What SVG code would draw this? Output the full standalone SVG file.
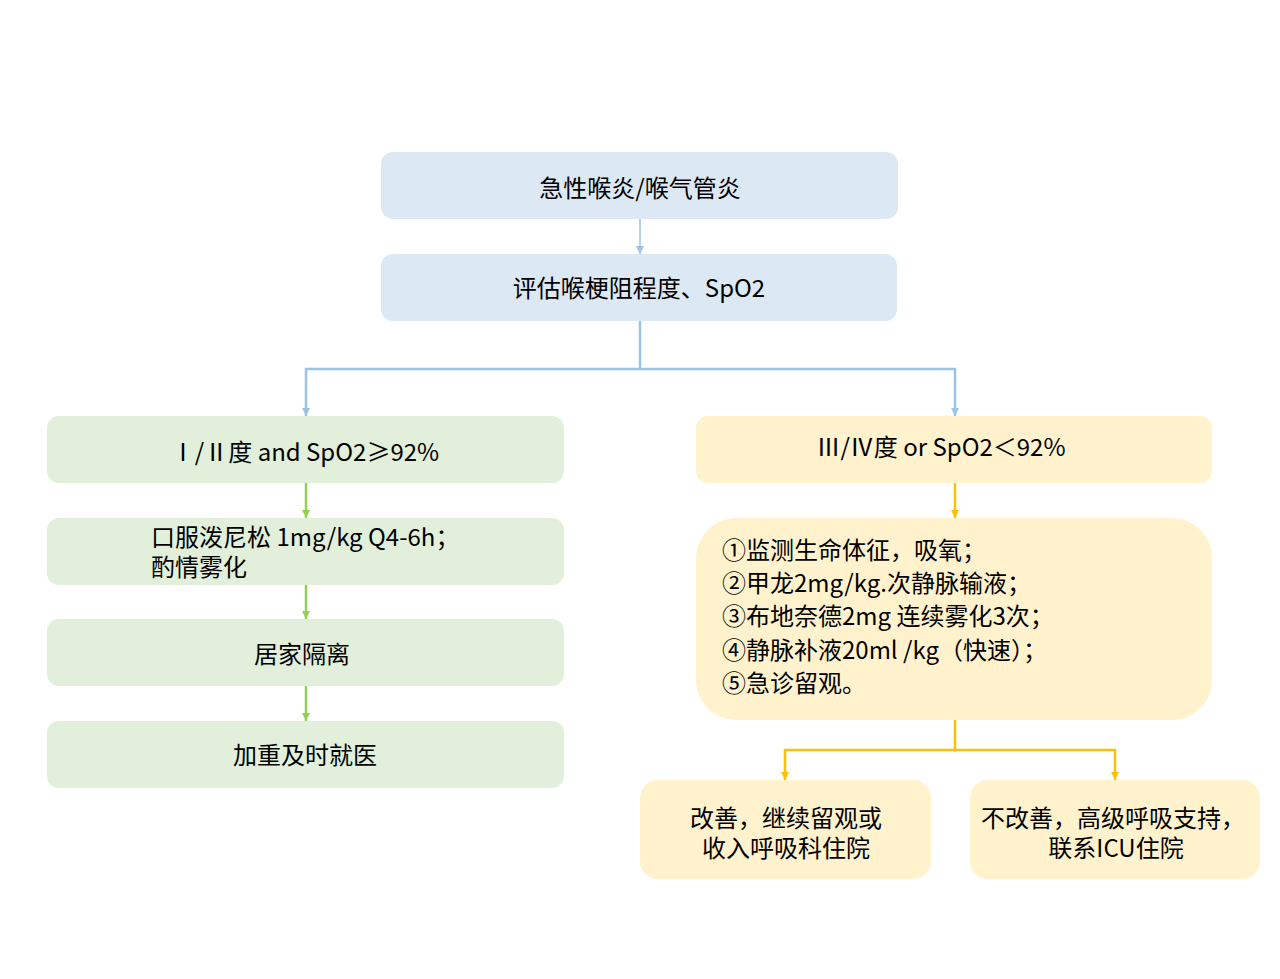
<svg xmlns="http://www.w3.org/2000/svg" width="1280" height="979" viewBox="0 0 1280 979">
<style>
text{font-family:"Noto Sans CJK SC","Microsoft YaHei",sans-serif;font-size:24px;fill:#000}
.c{text-anchor:middle}
.blue{fill:#dde8f5}
.green{fill:#e2efda}
.yellow{fill:#fff2cc}
.lb{stroke:#9dc3e6;fill:none}
.lg{stroke:#92d050;stroke-width:2.5;fill:none}
.ly{stroke:#ffc000;stroke-width:2.5;fill:none}
</style>
<defs>
<marker id="ag" markerWidth="8" markerHeight="8" refX="8" refY="4" orient="auto" markerUnits="userSpaceOnUse" viewBox="0 0 8 8"><path d="M0,0 L8,4 L0,8 Z" fill="#92d050"/></marker>
<marker id="ay" markerWidth="8" markerHeight="8" refX="8" refY="4" orient="auto" markerUnits="userSpaceOnUse" viewBox="0 0 8 8"><path d="M0,0 L8,4 L0,8 Z" fill="#ffc000"/></marker>
<marker id="ab2" markerWidth="8" markerHeight="8" refX="8" refY="4" orient="auto" markerUnits="userSpaceOnUse" viewBox="0 0 8 8"><path d="M0,0 L8,4 L0,8 Z" fill="#9dc3e6"/></marker>
</defs>
<rect width="1280" height="979" fill="#fff"/>
<g id="connectors">
<path class="lb" stroke-width="1.5" d="M640,219 V254" marker-end="url(#ab2)"/>
<path class="lb" stroke-width="2.5" d="M640,321 V369 H306 V416" marker-end="url(#ab2)"/>
<path class="lb" stroke-width="2.5" d="M640,369 H955 V416" marker-end="url(#ab2)"/>
<path class="lg" d="M306,483 V518" marker-end="url(#ag)"/>
<path class="lg" d="M306,585 V619" marker-end="url(#ag)"/>
<path class="lg" d="M306,686 V721" marker-end="url(#ag)"/>
<path class="ly" d="M955,483 V518" marker-end="url(#ay)"/>
<path class="ly" d="M955,720 V750 H785 V780" marker-end="url(#ay)"/>
<path class="ly" d="M955,750 H1115 V780" marker-end="url(#ay)"/>
</g>
<g id="n1"><rect class="blue" x="381" y="152" width="517" height="67" rx="12"/><text class="c" x="640" y="197">急性喉炎/喉气管炎</text></g>
<g id="n2"><rect class="blue" x="381" y="254" width="516" height="67" rx="12"/><text class="c" x="639" y="297">评估喉梗阻程度、SpO2</text></g>
<g id="n3"><rect class="green" x="47" y="416" width="517" height="67" rx="12"/><text class="c" x="305" y="461">Ⅰ/Ⅱ度 and SpO2≥92%</text></g>
<g id="n4"><rect class="green" x="47" y="518" width="517" height="67" rx="12"/><text x="151" y="546">口服泼尼松 1mg/kg Q4-6h；</text><text x="151" y="576">酌情雾化</text></g>
<g id="n5"><rect class="green" x="47" y="619" width="517" height="67" rx="12"/><text class="c" x="302" y="663">居家隔离</text></g>
<g id="n6"><rect class="green" x="47" y="721" width="517" height="67" rx="12"/><text class="c" x="305" y="764">加重及时就医</text></g>
<g id="n7"><rect class="yellow" x="696" y="416" width="516" height="67" rx="12"/><text class="c" x="941" y="456">Ⅲ/Ⅳ度 or SpO2＜92%</text></g>
<g id="n8"><rect class="yellow" x="696" y="518" width="516" height="202" rx="40"/>
<text x="722" y="559">①监测生命体征，吸氧；</text>
<text x="722" y="592">②甲龙2mg/kg.次静脉输液；</text>
<text x="722" y="625">③布地奈德2mg 连续雾化3次；</text>
<text x="722" y="659">④静脉补液20ml /kg（快速）；</text>
<text x="722" y="692">⑤急诊留观。</text></g>
<g id="n9"><rect class="yellow" x="640" y="780" width="291" height="99" rx="18"/><text class="c" x="786" y="827">改善，继续留观或</text><text class="c" x="786" y="857">收入呼吸科住院</text></g>
<g id="n10"><rect class="yellow" x="970" y="780" width="290" height="99" rx="18"/><text class="c" x="1113" y="827">不改善，高级呼吸支持，</text><text class="c" x="1116" y="857">联系ICU住院</text></g>
</svg>
